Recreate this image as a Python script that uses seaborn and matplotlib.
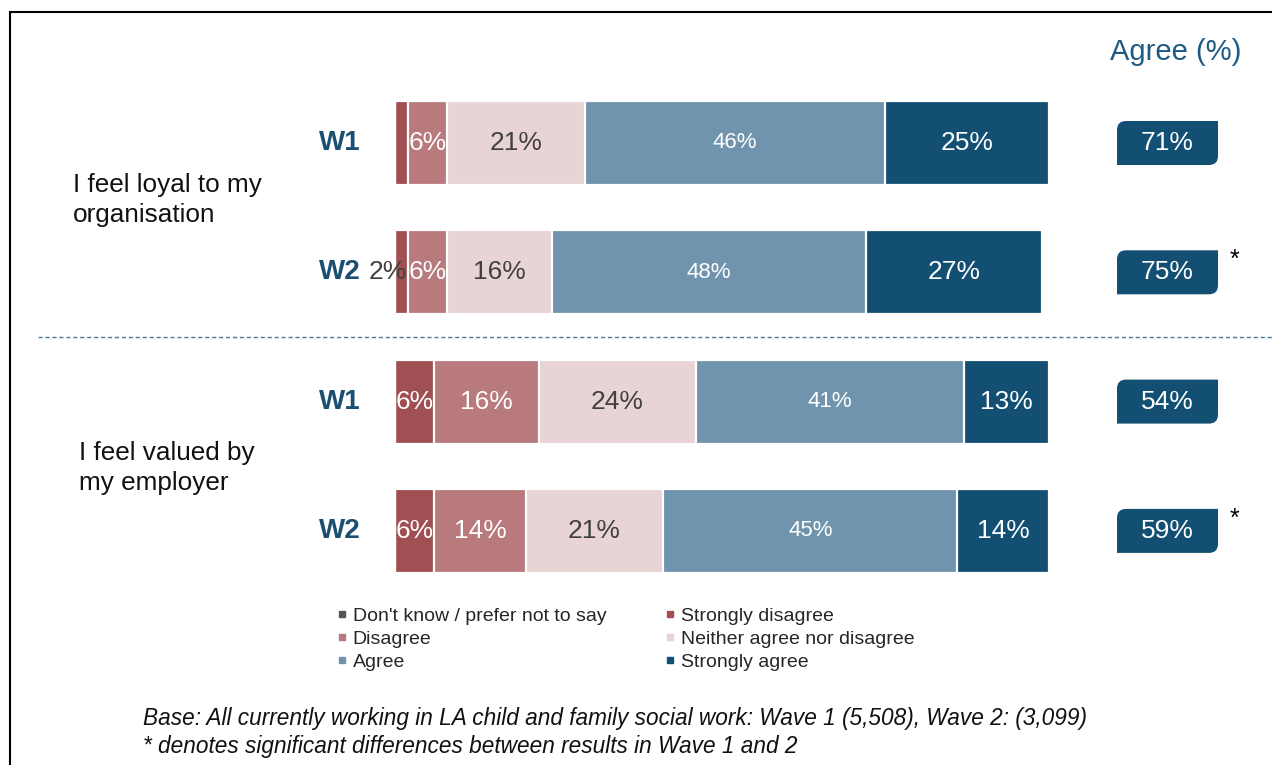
import matplotlib
matplotlib.use("Agg")
import matplotlib.pyplot as plt
import seaborn as sns
import pandas as pd
import numpy as np
from matplotlib.path import Path
from matplotlib.patches import PathPatch, Rectangle
from matplotlib.lines import Line2D

# ---------------- data ----------------
rows = ["loyal_W1", "loyal_W2", "valued_W1", "valued_W2"]
wave_labels = ["W1", "W2", "W1", "W2"]
statements = ["I feel loyal to my\norganisation", "I feel valued by\nmy employer"]
categories = ["Don't know / prefer not to say", "Strongly disagree", "Disagree",
              "Neither agree nor disagree", "Agree", "Strongly agree"]
dont_know = [0, 0, 0, 0]
strongly_disagree = [2, 2, 6, 6]
disagree = [6, 6, 16, 14]
neither = [21, 16, 24, 21]
agree = [46, 48, 41, 45]
strongly_agree = [25, 27, 13, 14]
agree_total = [71, 75, 54, 59]
significant = ["", "*", "", "*"]

colors = ["#555555", "#A04F52", "#B87A7C", "#E8D3D5", "#7094AD", "#124F73"]
label_colors = ["white", "white", "white", "#404040", "white", "white"]
label_sizes = [19, 19, 19, 19, 16, 19]

series = [dont_know, strongly_disagree, disagree, neither, agree, strongly_agree]

# ---------------- figure ----------------
sns.set_theme(style="white")
plt.rcParams['font.family'] = ['Liberation Sans', 'DejaVu Sans']

W, H = 1272, 765
fig = plt.figure(figsize=(W / 100, H / 100), dpi=100)
ax = fig.add_axes([0, 0, 1, 1])

X0, PXU = 395.0, 6.54     # pixel of value 0, pixels per percent
Y0, PYU = 143.0, 129.3    # pixel of first row, pixels per row


def X(px):
    return (px - X0) / PXU


def Y(py):
    return (py - Y0) / PYU


cum = np.zeros(len(rows))
cums = []
for s in series:
    cum = cum + np.array(s, dtype=float)
    cums.append(cum.copy())

# draw stacked bars back to front (cumulative totals)
for i in range(len(series) - 1, -1, -1):
    d = pd.DataFrame({"row": rows, "value": cums[i]})
    sns.barplot(data=d, x="value", y="row", order=rows, orient="h",
                color=colors[i], saturation=1, width=0.65,
                edgecolor="white", linewidth=1.6, ax=ax)

# segment labels
for i, s in enumerate(series):
    for r in range(len(rows)):
        v = s[r]
        if v <= 0:
            continue
        mid = cums[i][r] - v / 2
        if i == 1 and v < 3:
            if significant[r] == "*":
                ax.text(X(407), r, f"{v}%", ha="right", va="center",
                        fontsize=19, color="#404040", zorder=10)
            continue
        ax.text(mid, r, f"{v}%", ha="center", va="center",
                fontsize=label_sizes[i], color=label_colors[i], zorder=10)

# wave labels
for r, wl in enumerate(wave_labels):
    ax.text(X(361), r, wl, ha="right", va="center", fontsize=20,
            fontweight="bold", color="#1B4F72")

# statement labels
ax.text(X(73), Y(200), statements[0], ha="left", va="center",
        fontsize=18.8, color="#111111", linespacing=1.3)
ax.text(X(79), Y(468), statements[1], ha="left", va="center",
        fontsize=18.8, color="#111111", linespacing=1.3)

# divider
ax.plot([X(38), X(1275)], [1.5, 1.5], ls=(0, (3, 2)), color="#4A7A9C", lw=1)

# agree boxes
bx0, bx1 = X(1117), X(1218)
hh = 22 / PYU
rx, ry = 9 / PXU, 9 / PYU
for r, tot in enumerate(agree_total):
    yt, yb = r - hh, r + hh
    verts = [(bx0 + rx, yt), (bx1, yt), (bx1, yb - ry), (bx1, yb), (bx1 - rx, yb),
             (bx0, yb), (bx0, yt + ry), (bx0, yt), (bx0 + rx, yt), (bx0 + rx, yt)]
    codes = [Path.MOVETO, Path.LINETO, Path.LINETO, Path.CURVE3, Path.CURVE3,
             Path.LINETO, Path.LINETO, Path.CURVE3, Path.CURVE3, Path.CLOSEPOLY]
    ax.add_patch(PathPatch(Path(verts, codes), facecolor="#124F73",
                           edgecolor="none"))
    ax.text((bx0 + bx1) / 2, r, f"{tot}%", ha="center", va="center",
            fontsize=19, color="white")
    if significant[r]:
        ax.text(X(1234), r - 12 / PYU, significant[r], ha="center",
                va="center", fontsize=18, color="black")

ax.text(X(1176), Y(52), "Agree (%)", ha="center", va="center",
        fontsize=21, color="#1F5A85")

ax.set_xlim(X(0), X(W))
ax.set_ylim(Y(H), Y(0))
ax.axis("off")

# legend
order = [0, 2, 4, 1, 3, 5]
handles = [Line2D([], [], marker="s", ls="none", markersize=5,
                  markerfacecolor=colors[i], markeredgecolor=colors[i])
           for i in order]
labels = [categories[i] for i in order]
fig.legend(handles, labels, loc="upper left",
           bbox_to_anchor=(336 / W, 1 - 607 / H), ncol=2, frameon=False,
           fontsize=14, handlelength=0.6, handletextpad=0.25,
           columnspacing=3.0, labelspacing=0.28, borderpad=0,
           borderaxespad=0)

# footnotes
fig.text(143 / W, 1 - 718 / H,
         "Base: All currently working in LA child and family social work: "
         "Wave 1 (5,508), Wave 2: (3,099)",
         ha="left", va="center", fontsize=16.3, style="italic", color="#111111")
fig.text(143 / W, 1 - 746 / H,
         "* denotes significant differences between results in Wave 1 and 2",
         ha="left", va="center", fontsize=16.3, style="italic", color="#111111")

# outer frame
fig.patches.append(Rectangle((10 / W, -0.05), 1.2, 1 - 12 / H + 0.05,
                             transform=fig.transFigure, fill=False,
                             edgecolor="black", lw=1.5))

fig.savefig("out.png", dpi=100)
